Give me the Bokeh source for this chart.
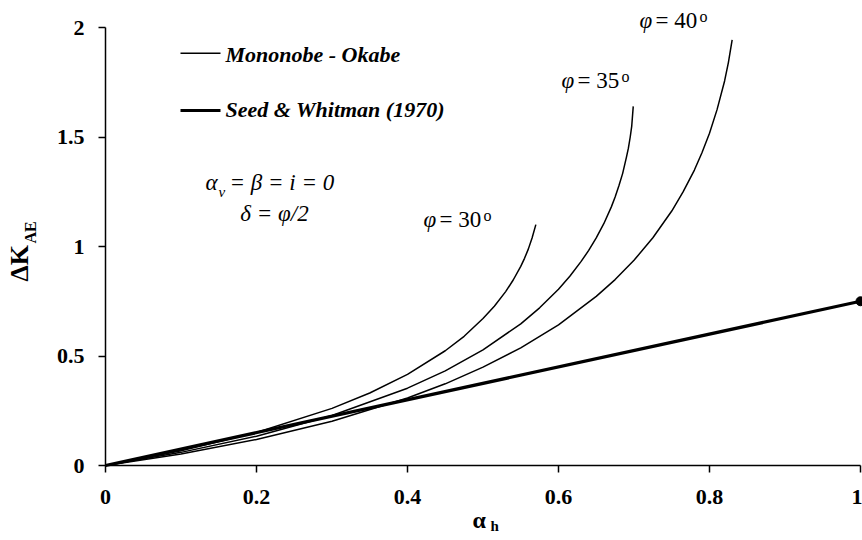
import math
from bokeh.plotting import figure
from bokeh.models import Range1d, Label, FixedTicker
from bokeh.embed import file_html
from bokeh.resources import INLINE

# ---------------- data ----------------
# Mononobe-Okabe, phi = 30, 35, 40 deg  (alpha_h, Delta K_AE)
kh_30 = [0, 0.1, 0.2, 0.3, 0.35, 0.4, 0.45, 0.475, 0.5, 0.515, 0.53, 0.54, 0.55, 0.555, 0.56, 0.565, 0.57]
dk_30 = [0, 0.067, 0.151, 0.261, 0.331, 0.416, 0.524, 0.590, 0.671, 0.727, 0.794, 0.847, 0.909, 0.946, 0.988, 1.039, 1.10]

kh_35 = [0, 0.1, 0.2, 0.3, 0.4, 0.45, 0.5, 0.55, 0.575, 0.6, 0.615, 0.63, 0.64, 0.65, 0.66, 0.67,
         0.675, 0.68, 0.685, 0.69, 0.6925, 0.695, 0.697, 0.699]
dk_35 = [0, 0.060, 0.134, 0.228, 0.353, 0.432, 0.528, 0.647, 0.720, 0.805, 0.864, 0.932, 0.982, 1.039, 1.104, 1.181,
         1.226, 1.277, 1.334, 1.408, 1.448, 1.50, 1.55, 1.64]

kh_40 = [0, 0.1, 0.2, 0.3, 0.4, 0.45, 0.5, 0.55, 0.6, 0.65, 0.675, 0.7, 0.725, 0.75, 0.765, 0.78,
         0.79, 0.8, 0.81, 0.82, 0.825, 0.83]
dk_40 = [0, 0.053, 0.119, 0.202, 0.308, 0.373, 0.449, 0.537, 0.642, 0.772, 0.849, 0.937, 1.040, 1.162, 1.249, 1.349,
         1.428, 1.517, 1.625, 1.756, 1.840, 1.943]

# Seed & Whitman (1970)
sw_kh = [0, 1.0]
sw_dk = [0, 0.75]

x_ticks = [0, 0.2, 0.4, 0.6, 0.8, 1.0]
x_tick_labels = ["0", "0.2", "0.4", "0.6", "0.8", "1"]
y_ticks = [0, 0.5, 1.0, 1.5, 2.0]
y_tick_labels = ["0", "0.5", "1", "1.5", "2"]

legend_labels = ["Mononobe - Okabe", "Seed & Whitman (1970)"]
phi_values = ["30", "35", "40"]

# ---------------- layout ----------------
W, H = 862, 540
FX0, FX1 = 105.0, 860.0      # pixel of x=0 and x=1
FY0, FY2 = 465.0, 27.0       # pixel of y=0 and y=2
sx = (FX1 - FX0) / 1.0
sy = (FY0 - FY2) / 2.0
x_start, x_end = -FX0 / sx, (W - FX0) / sx
y_end, y_start = FY0 / sy, (FY0 - H) / sy


def X(px):
    return x_start + px / W * (x_end - x_start)


def Y(py):
    return y_end - py / H * (y_end - y_start)


SERIF = "Liberation Serif"
BASE_K = 0.36   # baseline correction (fraction of font size)

p = figure(width=W, height=H, output_backend="svg", toolbar_location=None,
           x_range=Range1d(x_start, x_end), y_range=Range1d(y_start, y_end),
           min_border=0, min_border_left=0, min_border_right=0, min_border_top=0, min_border_bottom=0)
p.grid.visible = False
p.outline_line_color = None
p.background_fill_color = "white"
p.border_fill_color = "white"

for ax, ticks, labels, bnds in ((p.xaxis[0], x_ticks, x_tick_labels, (0, 1)),
                                (p.yaxis[0], y_ticks, y_tick_labels, (0, 2))):
    ax.fixed_location = 0
    ax.bounds = bnds
    ax.ticker = FixedTicker(ticks=ticks)
    ax.major_label_overrides = {t: l for t, l in zip(ticks, labels)}
    ax.axis_line_color = "black"
    ax.axis_line_width = 1.5
    ax.major_tick_line_color = "black"
    ax.major_tick_line_width = 1.5
    ax.major_tick_out = 7
    ax.major_tick_in = 0
    ax.minor_tick_line_color = None
    ax.major_label_text_font = SERIF
    ax.major_label_text_font_style = "bold"
    ax.major_label_text_font_size = "22px"
    ax.major_label_text_color = "black"
p.xaxis[0].major_label_standoff = 17
p.yaxis[0].major_label_standoff = 14

# ---------------- curves ----------------
for kh, dk in ((kh_30, dk_30), (kh_35, dk_35), (kh_40, dk_40)):
    p.line(kh, dk, line_color="black", line_width=1.5, line_join="round")
p.line(sw_kh, sw_dk, line_color="black", line_width=3.2)
p.scatter([sw_kh[-1]], [sw_dk[-1]], size=9, color="black")


def lab(px, py, text, size, style="normal", align="left", rotated=False):
    if rotated:
        px = px - BASE_K * size
    else:
        py = py - BASE_K * size
    p.add_layout(Label(x=X(px), y=Y(py), text=text, text_font=SERIF, text_font_style=style,
                       text_font_size=f"{size}px", text_baseline="alphabetic", text_align=align,
                       angle=math.pi / 2 if rotated else 0.0, text_color="black"))


# ---------------- legend (manual) ----------------
p.line([X(180), X(220)], [Y(52.7), Y(52.7)], line_color="black", line_width=1.5)
p.line([X(180), X(220)], [Y(110), Y(110)], line_color="black", line_width=3.2)
lab(225, 61.5, legend_labels[0], 22, "bold italic")
lab(225, 117, legend_labels[1], 22, "bold italic")

# ---------------- conditions ----------------
lab(205, 190, "α", 23, "italic")
lab(218, 197, "v", 15, "italic")
lab(229, 190, "= β = i = 0", 23, "italic")
lab(274, 221, "δ = φ/2", 23, "italic", align="center")

# ---------------- phi labels ----------------
phi_pos = [(422, 227), (560, 88), (638, 28)]
for val, (px, py) in zip(phi_values, phi_pos):
    lab(px + 1, py, "φ", 23, "italic")
    lab(px + 17, py, "= " + val, 23)
    lab(px + 61, py - 6, "o", 16)

# ---------------- axis titles ----------------
lab(28, 281, "ΔK", 26, "bold", rotated=True)
lab(35.5, 243, "AE", 16, "bold", rotated=True)
lab(472, 528, "α", 24, "bold")
lab(490, 531, "h", 15, "bold")

open("out.html", "w").write(file_html(p, INLINE))
